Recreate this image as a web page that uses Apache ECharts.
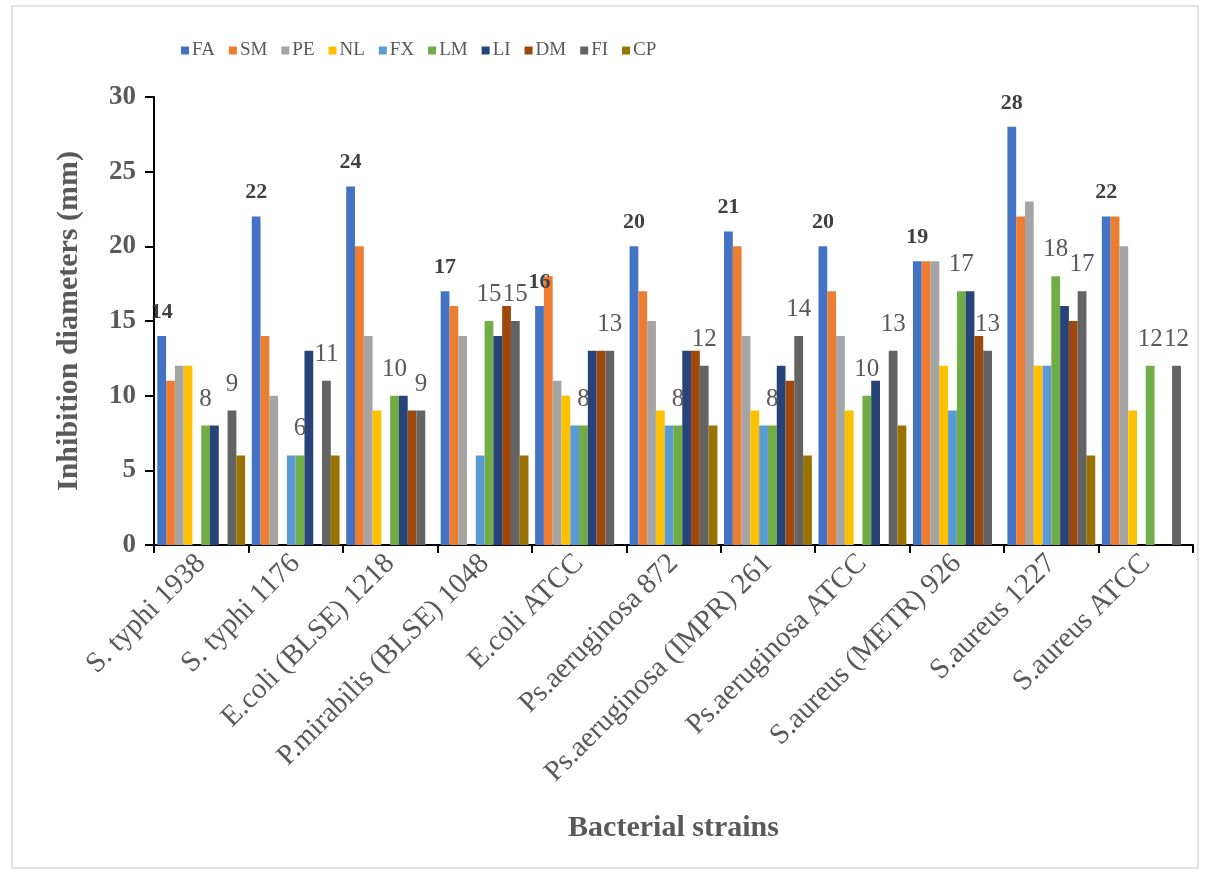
<!DOCTYPE html>
<html>
<head>
<meta charset="utf-8">
<script src="https://cdn.jsdelivr.net/npm/echarts@6/dist/echarts.min.js"></script>
<style>
html, body { margin: 0; padding: 0; background: #fff; }
#chart { width: 1209px; height: 874px; }
</style>
</head>
<body>
<div id="chart"></div>
<script>
// strains on x axis
var strains = ['S. typhi 1938', 'S. typhi 1176', 'E.coli (BLSE) 1218', 'P.mirabilis (BLSE) 1048',
	'E.coli ATCC', 'Ps.aeruginosa 872', 'Ps.aeruginosa (IMPR) 261', 'Ps.aeruginosa ATCC',
	'S.aureus (METR) 926', 'S.aureus 1227', 'S.aureus ATCC'];
var yTicks = [0, 5, 10, 15, 20, 25, 30];

// inhibition diameters (mm), null = no bar
var FA = [14, 22, 24, 17, 16, 20, 21, 20, 19, 28, 22];
var SM = [11, 14, 20, 16, 18, 17, 20, 17, 19, 22, 22];
var PE = [12, 10, 14, 14, 11, 15, 14, 14, 19, 23, 20];
var NL = [12, null, 9, null, 10, 9, 9, 9, 12, 12, 9];
var FX = [null, 6, null, 6, 8, 8, 8, null, 9, 12, null];
var LM = [8, 6, 10, 15, 8, 8, 8, 10, 17, 18, 12];
var LI = [8, 13, 10, 14, 13, 13, 12, 11, 17, 16, null];
var DM = [null, null, 9, 16, 13, 13, 11, null, 14, 15, null];
var FI = [9, 11, 9, 15, 13, 12, 14, 13, 13, 17, 12];
var CP = [6, 6, null, 6, null, 8, 6, 8, null, 6, null];

var names = ['FA', 'SM', 'PE', 'NL', 'FX', 'LM', 'LI', 'DM', 'FI', 'CP'];
var values = [FA, SM, PE, NL, FX, LM, LI, DM, FI, CP];
var colors = ['#4472C4', '#ED7D31', '#A5A5A5', '#FFC000', '#5B9BD5', '#70AD47', '#264478', '#9E480E', '#636363', '#997300'];

var serif = '"Liberation Serif", "DejaVu Serif", serif';

var series = [];
for (var i = 0; i < names.length; i++) {
	var s = {
		name: names[i],
		type: 'bar',
		data: values[i],
		barGap: '0%',
		barCategoryGap: '7%',
		itemStyle: { color: colors[i] }
	};
	if (names[i] == 'FA') {// 粗体标签
		s.label = { show: true, position: 'top', distance: 13, fontFamily: serif, fontWeight: 'bold', fontSize: 22, color: '#404040' };
	} else if (names[i] == 'LM' || names[i] == 'FI') {
		s.label = { show: true, position: 'top', distance: 14, fontFamily: serif, fontSize: 25, color: '#595959' };
	}
	series.push(s);
}

var option = {
	animation: false,
	color: colors,
	graphic: [{
		type: 'rect',
		shape: { x: 12, y: 6, width: 1186, height: 862 },
		style: { fill: 'none', stroke: '#d9d9d9', lineWidth: 1.5 },
		silent: true
	}],
	legend: {
		left: 176,
		top: 36,
		itemWidth: 8,
		itemHeight: 8,
		itemGap: 14,
		icon: 'rect',
		textStyle: { fontFamily: serif, fontSize: 19, color: '#595959', padding: [0, 0, 0, -2] },
		data: names
	},
	grid: { left: 154, right: 16, top: 97, bottom: 329, containLabel: false },
	xAxis: {
		type: 'category',
		data: strains,
		name: 'Bacterial strains',
		nameLocation: 'middle',
		nameGap: 268,
		nameTextStyle: { fontFamily: serif, fontWeight: 'bold', fontSize: 30, color: '#595959' },
		axisLine: { lineStyle: { color: '#000', width: 2 } },
		axisTick: { show: true, length: 8, lineStyle: { color: '#000', width: 2 } },
		axisLabel: { rotate: 45, margin: 14, interval: 0, fontFamily: serif, fontSize: 29, color: '#595959' }
	},
	yAxis: {
		type: 'value',
		min: 0,
		max: yTicks[yTicks.length - 1],
		interval: 5,
		name: 'Inhibition diameters (mm)',
		nameLocation: 'middle',
		nameGap: 70,
		nameTextStyle: { fontFamily: serif, fontWeight: 'bold', fontSize: 30, color: '#595959' },
		axisLine: { show: true, lineStyle: { color: '#000', width: 2 } },
		axisTick: { show: true, length: 9, lineStyle: { color: '#000', width: 2 } },
		axisLabel: { margin: 18, fontFamily: serif, fontWeight: 'bold', fontSize: 27, color: '#595959' },
		splitLine: { show: false }
	},
	series: series
};

var myChart = echarts.init(document.getElementById('chart'));
myChart.setOption(option);
</script>
</body>
</html>
